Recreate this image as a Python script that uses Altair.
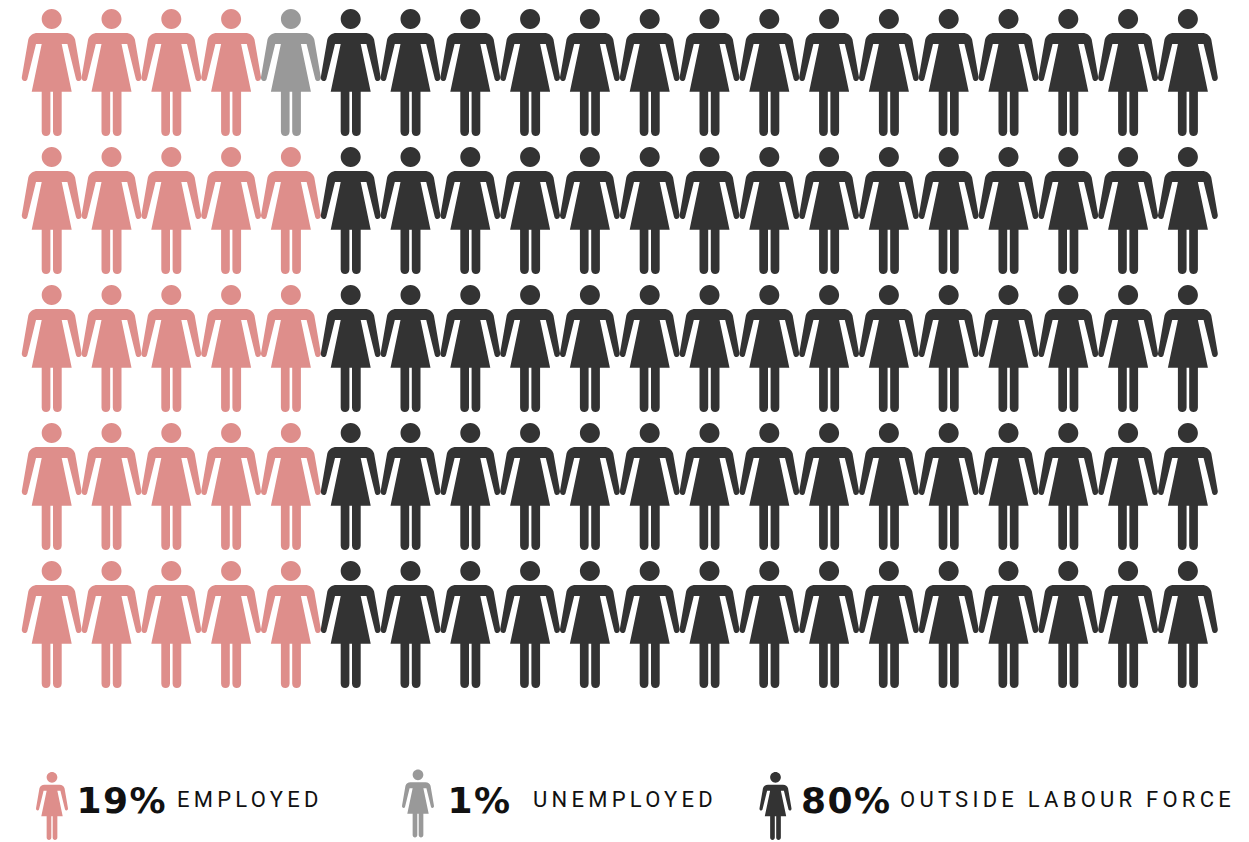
import altair as alt
import pandas as pd

# Figures per row, left to right, for each group
employed_per_row = [4, 5, 5, 5, 5]
unemployed_per_row = [1, 0, 0, 0, 0]
outside_per_row = [15, 15, 15, 15, 15]

groups = ["employed", "unemployed", "outside"]
colours = ["#de8e8b", "#999999", "#333333"]
key_shares = ["19%", "1%", "80%"]
key_labels = ["EMPLOYED", "UNEMPLOYED", "OUTSIDE LABOUR FORCE"]
key_icon_x = [52, 418, 775.5]
key_icon_y = [806, 803.5, 806]
key_share_x = [76.5, 447.5, 801]
key_label_x = [177, 533, 900]

W, H = 1249, 842
COLS, ROWS = 20, 5
FIRST_X, STEP_X = 51.7, 59.8
FIRST_Y, STEP_Y = 72.5, 138


def u(value):
    """Figure units in pixels at full size, to symbol units (half height = 1)."""
    return f"{value / 63.5:.4f}"


def build_path(segments):
    out = []
    for seg in segments:
        cmd, *vals = seg
        out.append(cmd + " ".join(u(v) for v in vals))
    return " ".join(out)


head_r, head_y, k = 10.0, -53.5, 5.5
segments = [
    # head
    ("M", -head_r, head_y),
    ("C", -head_r, head_y - k, -k, head_y - head_r, 0, head_y - head_r),
    ("C", k, head_y - head_r, head_r, head_y - k, head_r, head_y),
    ("C", head_r, head_y + k, k, head_y + head_r, 0, head_y + head_r),
    ("C", -k, head_y + head_r, -head_r, head_y + k, -head_r, head_y),
    ("Z",),
    # torso, arms and dress
    ("M", -14, -39.5),
    ("L", 14, -39.5),
    ("C", 19, -39.5, 22, -37, 23.4, -33),
    ("L", 29.7, 3.5),
    ("C", 30.6, 7, 28.5, 8.6, 26.8, 8.6),
    ("C", 25.6, 8.6, 24.8, 7.8, 24.3, 6.4),
    ("L", 15.7, -28.5),
    ("L", 10, -28.5),
    ("L", 20, 19.2),
    ("L", -20, 19.2),
    ("L", -10, -28.5),
    ("L", -15.7, -28.5),
    ("L", -24.3, 6.4),
    ("C", -24.8, 7.8, -25.6, 8.6, -26.8, 8.6),
    ("C", -28.5, 8.6, -30.6, 7, -29.7, 3.5),
    ("L", -23.4, -33),
    ("C", -22, -37, -19, -39.5, -14, -39.5),
    ("Z",),
    # left leg
    ("M", -10, 19.2),
    ("L", -1.3, 19.2),
    ("L", -1.3, 59),
    ("C", -1.3, 62, -3.3, 63.5, -5.6, 63.5),
    ("C", -8, 63.5, -10, 62, -10, 59),
    ("Z",),
    # right leg
    ("M", 1.3, 19.2),
    ("L", 10, 19.2),
    ("L", 10, 59),
    ("C", 10, 62, 8, 63.5, 5.6, 63.5),
    ("C", 3.3, 63.5, 1.3, 62, 1.3, 59),
    ("Z",),
]
FIGURE = build_path(segments)

rows = []
for r in range(ROWS):
    seq = (
        ["employed"] * employed_per_row[r]
        + ["unemployed"] * unemployed_per_row[r]
        + ["outside"] * outside_per_row[r]
    )
    for c, group in enumerate(seq):
        rows.append({"col": c, "row": r, "group": group})
people = pd.DataFrame(rows)

key = pd.DataFrame(
    {
        "group": groups,
        "share": key_shares,
        "label": key_labels,
        "icon_x": key_icon_x,
        "icon_y": key_icon_y,
        "share_x": key_share_x,
        "label_x": key_label_x,
    }
)
key["share_y"] = 802
key["label_y"] = 799.5

colour_scale = alt.Scale(domain=groups, range=colours)

grid_x = alt.X(
    "col:Q",
    axis=None,
    scale=alt.Scale(domain=[0, COLS - 1], range=[FIRST_X, FIRST_X + STEP_X * (COLS - 1)]),
)
grid_y = alt.Y(
    "row:Q",
    axis=None,
    scale=alt.Scale(domain=[0, ROWS - 1], range=[FIRST_Y, FIRST_Y + STEP_Y * (ROWS - 1)]),
)

figures = (
    alt.Chart(people)
    .mark_point(shape=FIGURE, filled=True, opacity=1, size=127 ** 2, strokeWidth=0)
    .encode(
        x=grid_x,
        y=grid_y,
        color=alt.Color("group:N", scale=colour_scale, legend=None),
    )
)

px_x = alt.Scale(domain=[0, W], range=[0, W])
px_y = alt.Scale(domain=[0, H], range=[0, H])

key_icons = (
    alt.Chart(key)
    .mark_point(shape=FIGURE, filled=True, opacity=1, size=68 ** 2, strokeWidth=0)
    .encode(
        x=alt.X("icon_x:Q", axis=None, scale=px_x),
        y=alt.Y("icon_y:Q", axis=None, scale=px_y),
        color=alt.Color("group:N", scale=colour_scale, legend=None),
    )
)

key_share = (
    alt.Chart(key, name="shares")
    .mark_text(
        font="DejaVu Sans",
        fontWeight="bold",
        fontSize=36,
        align="left",
        baseline="middle",
        color="#111111",
    )
    .encode(
        x=alt.X("share_x:Q", axis=None, scale=px_x),
        y=alt.Y("share_y:Q", axis=None, scale=px_y),
        text="share:N",
    )
)

key_label = (
    alt.Chart(key, name="labels")
    .mark_text(
        font="Roboto",
        fontSize=22,
        align="left",
        baseline="middle",
        color="#111111",
    )
    .encode(
        x=alt.X("label_x:Q", axis=None, scale=px_x),
        y=alt.Y("label_y:Q", axis=None, scale=px_y),
        text="label:N",
    )
)

chart = (
    alt.layer(figures, key_icons, key_share, key_label)
    .resolve_scale(x="independent", y="independent")
    .properties(
        width=W,
        height=H,
        padding=0,
        autosize=alt.AutoSizeParams(type="none"),
        background="#ffffff",
    )
    .configure_view(stroke=None)
)

# Letter spacing has no mark property, so it goes in through the page style
key_style = (
    ".shares_marks text, .layer_2_marks text{letter-spacing:1.5px}"
    ".labels_marks text, .layer_3_marks text{letter-spacing:4.25px}"
)

chart.save(
    "out.html",
    embed_options={"renderer": "svg", "actions": False, "defaultStyle": key_style},
)
